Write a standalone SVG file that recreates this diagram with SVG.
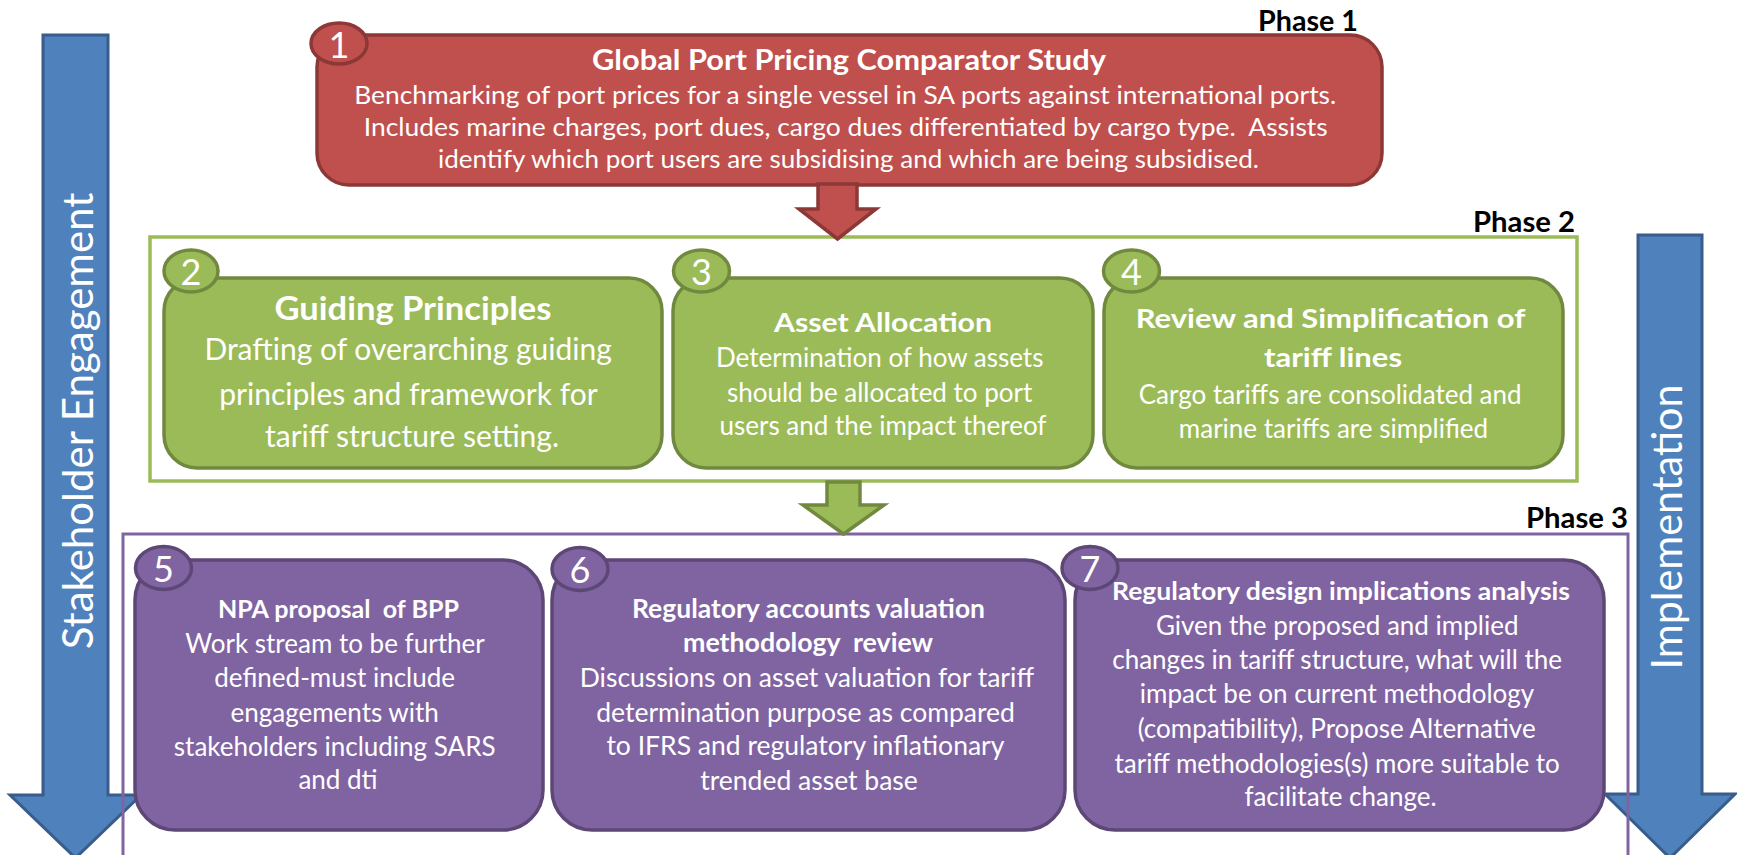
<svg xmlns="http://www.w3.org/2000/svg" width="1737" height="855" viewBox="0 0 1737 855">
  <style>
    text { font-family: Lato, "Open Sans", "Liberation Sans", sans-serif; }
    .t { fill: #ffffff; text-anchor: middle; }
    .b { font-weight: 700; }
    .phase { fill: #000000; font-weight: 700; font-size: 28px; text-anchor: end; }
    .num { fill: #ffffff; font-size: 36px; text-anchor: middle; }
    .red { fill: #C0504D; stroke: #8C3836; stroke-width: 3.5; }
    .green { fill: #9BBB59; stroke: #71893F; stroke-width: 3.5; }
    .purple { fill: #8064A2; stroke: #5C4776; stroke-width: 3.5; }
    .blue { fill: #4F81BD; stroke: #385D8A; stroke-width: 3; }
    .side { fill: #ffffff; font-size: 42px; text-anchor: middle; }
  </style>

  <!-- side process arrows -->
  <g id="stakeholder-engagement">
    <polygon class="blue" points="43,35 108,35 108,795 141,795 75.5,858 10,795 43,795"/>
    <text class="side" transform="translate(93,421) rotate(-90)" x="0" y="0">Stakeholder Engagement</text>
  </g>
  <g id="implementation">
    <polygon class="blue" points="1638,235 1702,235 1702,794 1735,794 1670,858 1605,794 1638,794"/>
    <text class="side" transform="translate(1682,527) rotate(-90)" x="0" y="0" font-size="38" textLength="285" lengthAdjust="spacingAndGlyphs">Implementation</text>
  </g>

  <!-- phase frames -->
  <g id="phase2-frame">
    <rect x="150" y="237" width="1427" height="244" fill="#ffffff" stroke="#9BBB59" stroke-width="3.5"/>
    <text class="phase" x="1575" y="232" textLength="102" lengthAdjust="spacingAndGlyphs">Phase 2</text>
  </g>
  <g id="phase3-frame">
    <path d="M123,880 V534 H1628 V880" fill="none" stroke="#8064A2" stroke-width="3"/>
    <text class="phase" x="1628" y="528" textLength="102" lengthAdjust="spacingAndGlyphs">Phase 3</text>
  </g>

  <!-- Phase 1 -->
  <g id="node1">
    <text class="phase" x="1358" y="31" textLength="100" lengthAdjust="spacingAndGlyphs">Phase 1</text>
    <rect class="red" x="317" y="35" width="1065" height="150" rx="32"/>
    <ellipse class="red" cx="339" cy="43.5" rx="28" ry="20.5"/>
    <text class="num" x="339" y="57.5">1</text>
    <text class="t b" x="849" y="70" font-size="28" textLength="514" lengthAdjust="spacingAndGlyphs">Global Port Pricing Comparator Study</text>
    <text class="t" font-size="25.5">
      <tspan x="848.5" y="104" textLength="982" lengthAdjust="spacingAndGlyphs">Benchmarking of port prices for a single vessel in SA ports against international ports.</tspan>
      <tspan x="849" y="136" textLength="964" lengthAdjust="spacingAndGlyphs" xml:space="preserve">Includes marine charges, port dues, cargo dues differentiated by cargo type.  Assists</tspan>
      <tspan x="848.5" y="168" textLength="821" lengthAdjust="spacingAndGlyphs">identify which port users are subsidising and which are being subsidised.</tspan>
    </text>
  </g>

  <!-- Phase 2 -->
  <g id="node2">
    <rect class="green" x="164" y="278" width="498" height="190" rx="33"/>
    <ellipse class="green" cx="191" cy="271" rx="27" ry="21"/>
    <text class="num" x="191" y="285">2</text>
    <text class="t b" x="413" y="320" font-size="33" textLength="277" lengthAdjust="spacingAndGlyphs">Guiding Principles</text>
    <text class="t" font-size="30">
      <tspan x="412" y="360">Drafting of overarching guiding</tspan>
      <tspan x="412" y="405">principles and framework for</tspan>
      <tspan x="412" y="447">tariff structure setting.</tspan>
    </text>
  </g>
  <g id="node3">
    <rect class="green" x="673" y="278" width="420" height="190" rx="33"/>
    <ellipse class="green" cx="701.5" cy="271" rx="28" ry="21"/>
    <text class="num" x="701.5" y="285">3</text>
    <text class="t b" x="883" y="332" font-size="27" textLength="218" lengthAdjust="spacingAndGlyphs">Asset Allocation</text>
    <text class="t" font-size="26">
      <tspan x="883" y="367">Determination of how assets</tspan>
      <tspan x="883" y="402">should be allocated to port</tspan>
      <tspan x="883" y="435">users and the impact thereof</tspan>
    </text>
  </g>
  <g id="node4">
    <rect class="green" x="1104" y="278" width="459" height="190" rx="33"/>
    <ellipse class="green" cx="1131.5" cy="271" rx="28" ry="21"/>
    <text class="num" x="1131.5" y="285">4</text>
    <text class="t b" font-size="27">
      <tspan x="1333.5" y="328" textLength="389" lengthAdjust="spacingAndGlyphs">Review and Simplification of</tspan>
      <tspan x="1333" y="367" textLength="138" lengthAdjust="spacingAndGlyphs">tariff lines</tspan>
    </text>
    <text class="t" font-size="26">
      <tspan x="1333.5" y="404">Cargo tariffs are consolidated and</tspan>
      <tspan x="1333.5" y="438">marine tariffs are simplified</tspan>
    </text>
  </g>

  <!-- Phase 3 -->
  <g id="node5">
    <rect class="purple" x="135" y="560" width="408" height="270" rx="40"/>
    <ellipse class="purple" cx="163.5" cy="568" rx="28" ry="21.5"/>
    <text class="num" x="163.5" y="582">5</text>
    <text class="t b" x="338.5" y="618" font-size="25" textLength="241" lengthAdjust="spacingAndGlyphs" xml:space="preserve">NPA proposal  of BPP</text>
    <text class="t" font-size="26">
      <tspan x="338" y="653">Work stream to be further</tspan>
      <tspan x="338" y="687">defined-must include</tspan>
      <tspan x="338" y="722">engagements with</tspan>
      <tspan x="338" y="756">stakeholders including SARS</tspan>
      <tspan x="338" y="789">and dti</tspan>
    </text>
  </g>
  <g id="node6">
    <rect class="purple" x="552" y="560" width="513" height="270" rx="40"/>
    <ellipse class="purple" cx="580" cy="569" rx="28" ry="21.5"/>
    <text class="num" x="580" y="583">6</text>
    <text class="t b" font-size="26" xml:space="preserve"><tspan x="808.5" y="618" textLength="353" lengthAdjust="spacingAndGlyphs">Regulatory accounts valuation</tspan><tspan x="808" y="652" textLength="250" lengthAdjust="spacingAndGlyphs">methodology  review</tspan></text>
    <text class="t" font-size="26.5">
      <tspan x="810" y="687">Discussions on asset valuation for tariff</tspan>
      <tspan x="809" y="722">determination purpose as compared</tspan>
      <tspan x="808.5" y="755">to IFRS and regulatory inflationary</tspan>
      <tspan x="809" y="790">trended asset base</tspan>
    </text>
  </g>
  <g id="node7">
    <rect class="purple" x="1075" y="560" width="529" height="270" rx="40"/>
    <ellipse class="purple" cx="1090" cy="568" rx="28" ry="21.5"/>
    <text class="num" x="1090" y="582">7</text>
    <text class="t b" x="1341" y="600" font-size="25" textLength="458" lengthAdjust="spacingAndGlyphs">Regulatory design implications analysis</text>
    <text class="t" font-size="26">
      <tspan x="1340.5" y="635">Given the proposed and implied</tspan>
      <tspan x="1340.5" y="669">changes in tariff structure, what will the</tspan>
      <tspan x="1340" y="703">impact be on current methodology</tspan>
      <tspan x="1340" y="738">(compatibility), Propose Alternative</tspan>
      <tspan x="1340.5" y="773">tariff methodologies(s) more suitable to</tspan>
      <tspan x="1340.5" y="806">facilitate change.</tspan>
    </text>
  </g>

  <!-- phase-to-phase arrows -->
  <g id="connectors">
    <polygon class="red" points="818,184 857,184 857,209 876,209 837.5,239 799,209 818,209"/>
    <polygon class="green" points="827,482 860,482 860,505 884,505 843.5,534 803,505 827,505"/>
  </g>
</svg>
